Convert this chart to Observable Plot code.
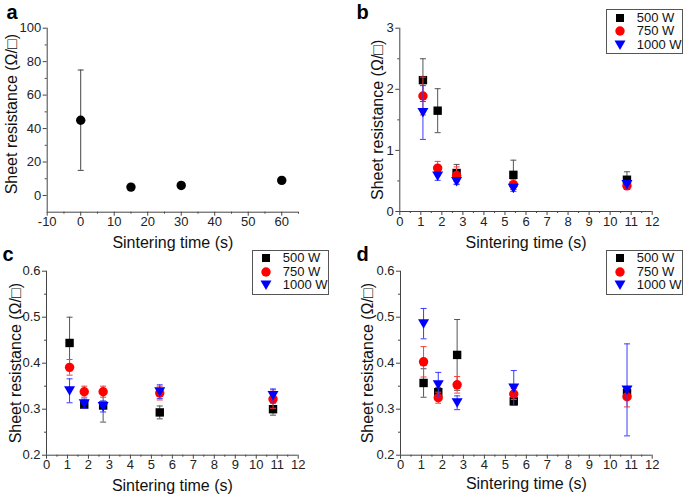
<!DOCTYPE html>
<html><head><meta charset="utf-8">
<script src="https://cdn.jsdelivr.net/npm/d3@7"></script>
<script src="https://cdn.jsdelivr.net/npm/@observablehq/plot@0.6"></script>
<style>
body{margin:0;background:#fff;}
#fig{position:relative;width:685px;height:498px;font-family:"Liberation Sans",Arial,sans-serif;overflow:hidden;background:#fff;}
.panel{position:absolute;}
.panel svg{overflow:visible;}
.legend{position:absolute;border:1px solid #555;background:#fff;font-size:13px;color:#111;box-sizing:border-box;width:77px;height:45px;}
.legend .row{position:absolute;height:14px;line-height:14px;white-space:nowrap;}
.legend svg{position:absolute;}
</style></head><body><div id="fig"></div>
<script>
// ---------- data ----------
const xTitle = "Sintering time (s)";
const yTitle = "Sheet resistance (Ω/□)";
const seriesNames = ["500 W", "750 W", "1000 W"];
const seriesColors = ["#000000", "#ff0000", "#0000ff"];
const errColors = ["#555555", "#ff3b3b", "#3b3bff"];

// panel a
const timesA = [0, 15, 30, 60];
const valuesA = [45, 5, 6, 9];
const errA = [30, 1, 1, 1.5];

// panels b, c, d share these sintering times
const timesBCD = [1.1, 1.8, 2.7, 5.4, 10.8];

// panel b
const b500 = [2.15, 1.65, 0.63, 0.60, 0.52];
const b500Err = [0.35, 0.36, 0.14, 0.24, 0.13];
const b750 = [1.89, 0.71, 0.59, 0.44, 0.42];
const b750Err = [0.31, 0.11, 0.14, 0.08, 0.06];
const b1000 = [1.62, 0.58, 0.49, 0.38, 0.44];
const b1000Err = [0.44, 0.07, 0.05, 0.05, 0.05];

// panel c
const c500 = [0.444, 0.310, 0.308, 0.293, 0.300];
const c500Err = [0.056, 0.008, 0.036, 0.014, 0.013];
const c750 = [0.391, 0.338, 0.338, 0.335, 0.322];
const c750Err = [0.017, 0.012, 0.012, 0.015, 0.020];
const c1000 = [0.340, 0.312, 0.306, 0.338, 0.330];
const c1000Err = [0.026, 0.010, 0.012, 0.015, 0.014];

// panel d
const d500 = [0.357, 0.337, 0.418, 0.317, 0.335];
const d500Err = [0.031, 0.010, 0.077, 0.008, 0.010];
const d750 = [0.403, 0.325, 0.353, 0.333, 0.327];
const d750Err = [0.033, 0.012, 0.018, 0.012, 0.022];
const d1000 = [0.486, 0.353, 0.314, 0.346, 0.342];
const d1000Err = [0.033, 0.027, 0.015, 0.038, 0.100];

// tick values
const xTicksA = [-10, 0, 10, 20, 30, 40, 50, 60];
const xMinorA = [-5, 5, 15, 25, 35, 45, 55, 65];
const yTicksA = [0, 20, 40, 60, 80, 100];
const yMinorA = [-10, 10, 30, 50, 70, 90];
const xTicksT = [0, 1, 2, 3, 4, 5, 6, 7, 8, 9, 10, 11, 12];
const xMinorT = [0.5, 1.5, 2.5, 3.5, 4.5, 5.5, 6.5, 7.5, 8.5, 9.5, 10.5, 11.5];
const yTicksB = [0, 1, 2, 3];
const yMinorB = [0.5, 1.5, 2.5];
const yTicksCD = [0.2, 0.3, 0.4, 0.5, 0.6];
const yMinorCD = [0.25, 0.35, 0.45, 0.55];

// ---------- symbols ----------
const symSquare = {draw(ctx) { const s = 4.2; ctx.moveTo(-s, -s); ctx.lineTo(s, -s); ctx.lineTo(s, s); ctx.lineTo(-s, s); ctx.closePath(); }};
const symCircle = {draw(ctx) { const r = 4.7; ctx.moveTo(r, 0); ctx.arc(0, 0, r, 0, 2 * Math.PI); ctx.closePath(); }};
const symTriDown = {draw(ctx) { ctx.moveTo(-5.5, -4.5); ctx.lineTo(5.5, -4.5); ctx.lineTo(0, 5); ctx.closePath(); }};
const symCap = {draw(ctx) { ctx.moveTo(-3, 0); ctx.lineTo(3, 0); }};
const seriesSymbols = [symSquare, symCircle, symTriDown];

const W = 342, H = 250;
const FONT = "Liberation Sans, Arial, sans-serif";

function rowsOf(times, vals, errs) {
  return times.map((t, i) => ({t, v: vals[i], lo: vals[i] - errs[i], hi: vals[i] + errs[i]}));
}

function makePanel(cfg) {
  const marks = [];
  marks.push(Plot.axisX(cfg.xMinor, {tickSize: 2, fill: "none", stroke: "#444", label: null}));
  marks.push(Plot.axisY(cfg.yMinor.filter(v => v > cfg.yDomain[0]), {tickSize: 2, fill: "none", stroke: "#444", label: null}));
  marks.push(Plot.axisX(cfg.xTicks, {tickSize: 4, tickPadding: 1, stroke: "#444", fill: "#222", fontSize: 13, label: null, tickFormat: d => String(d)}));
  marks.push(Plot.axisY(cfg.yTicks, {tickSize: 4, tickPadding: 2, stroke: "#444", fill: "#222", fontSize: 13, label: null, tickFormat: cfg.yFmt}));
  marks.push(Plot.ruleX([cfg.xDomain[0]], {stroke: "#444"}));
  marks.push(Plot.ruleY([cfg.yDomain[0]], {stroke: "#444"}));
  cfg.series.forEach(s => {
    marks.push(Plot.ruleX(s.rows, {x: "t", y1: "lo", y2: "hi", stroke: s.err, strokeWidth: 1}));
    marks.push(Plot.dot(s.rows, {x: "t", y: "lo", symbol: symCap, stroke: s.err, fill: "none", strokeWidth: 1}));
    marks.push(Plot.dot(s.rows, {x: "t", y: "hi", symbol: symCap, stroke: s.err, fill: "none", strokeWidth: 1}));
    marks.push(Plot.dot(s.rows, {x: "t", y: "v", symbol: s.symbol, fill: s.color, stroke: "none"}));
  });
  marks.push(Plot.text([xTitle], {text: d => d, frameAnchor: "bottom", dy: cfg.xtDy, textAnchor: "middle", lineAnchor: "middle", fontSize: 16, fill: "#111"}));
  marks.push(Plot.text([yTitle], {text: d => d, frameAnchor: "left", dx: cfg.ytDx, dy: cfg.ytDy, rotate: -90, textAnchor: "middle", lineAnchor: "middle", fontSize: 16, fill: "#111"}));
  marks.push(Plot.text([cfg.letter], {text: d => d, frameAnchor: "top-left", dx: cfg.lDx, dy: cfg.lDy, textAnchor: "start", lineAnchor: "middle", fontSize: 20, fontWeight: "bold", fill: "#000"}));
  const svg = Plot.plot({
    width: W, height: H,
    marginLeft: cfg.m[0], marginTop: cfg.m[1], marginRight: cfg.m[2], marginBottom: cfg.m[3],
    style: {fontFamily: FONT, background: "transparent", overflow: "visible"},
    x: {domain: cfg.xDomain},
    y: {domain: cfg.yDomain},
    marks
  });
  const div = document.createElement("div");
  div.className = "panel";
  div.style.left = cfg.left + "px";
  div.style.top = cfg.top + "px";
  div.appendChild(svg);
  document.getElementById("fig").appendChild(div);
}

function makeSeries(vals, errs) {
  return vals.map((v, i) => ({rows: rowsOf(timesBCD, v, errs[i]), color: seriesColors[i], err: errColors[i], symbol: seriesSymbols[i]}));
}

function makeLegend(left, top) {
  const lg = document.createElement("div");
  lg.className = "legend";
  lg.style.left = left + "px";
  lg.style.top = top + "px";
  const shapes = [
    `<rect x="1" y="2" width="8" height="8" fill="${seriesColors[0]}"/>`,
    `<circle cx="5" cy="6" r="4.7" fill="${seriesColors[1]}"/>`,
    `<path d="M-0.5,1.5L10.5,1.5L5,11Z" fill="${seriesColors[2]}"/>`
  ];
  seriesNames.forEach((name, i) => {
    const sv = document.createElementNS("http://www.w3.org/2000/svg", "svg");
    sv.setAttribute("width", 11); sv.setAttribute("height", 12);
    sv.style.left = "8px"; sv.style.top = (1.5 + i * 13.5) + "px";
    sv.style.overflow = "visible";
    sv.innerHTML = shapes[i];
    lg.appendChild(sv);
    const r = document.createElement("div");
    r.className = "row";
    r.style.left = "30px"; r.style.top = (0.5 + i * 13.5) + "px";
    r.textContent = name;
    lg.appendChild(r);
  });
  document.getElementById("fig").appendChild(lg);
}

// panel a
makePanel({
  left: 0, top: 0, m: [46.7, 27.7, 44, 38.3],
  xDomain: [-10, 65], yDomain: [-10, 100],
  xTicks: xTicksA, xMinor: xMinorA, yTicks: yTicksA, yMinor: yMinorA,
  yFmt: d => String(d),
  series: [{rows: rowsOf(timesA, valuesA, errA), color: "#000", err: "#444", symbol: symCircle}],
  letter: "a", lDx: -40.7, lDy: -15.6, xtDy: 31, ytDx: -35.5, ytDy: -6
});
// panel b
makePanel({
  left: 340, top: 0, m: [59.3, 27.7, 30.3, 39],
  xDomain: [0, 12], yDomain: [0, 3],
  xTicks: xTicksT, xMinor: xMinorT, yTicks: yTicksB, yMinor: yMinorB,
  yFmt: d => String(d),
  series: makeSeries([b500, b750, b1000], [b500Err, b750Err, b1000Err]),
  letter: "b", lDx: -43.3, lDy: -15.6, xtDy: 31, ytDx: -21.5, ytDy: 0
});
// panel c
makePanel({
  left: 0, top: 248, m: [46, 22.7, 44.3, 43.3],
  xDomain: [0, 12], yDomain: [0.2, 0.6],
  xTicks: xTicksT, xMinor: xMinorT, yTicks: yTicksCD, yMinor: yMinorCD,
  yFmt: d3.format(".1f"),
  series: makeSeries([c500, c750, c1000], [c500Err, c750Err, c1000Err]),
  letter: "c", lDx: -44, lDy: -17.1, xtDy: 30.5, ytDx: -30.5, ytDy: 0
});
// panel d
makePanel({
  left: 340, top: 248, m: [60, 22.7, 30.3, 43.3],
  xDomain: [0, 12], yDomain: [0.2, 0.6],
  xTicks: xTicksT, xMinor: xMinorT, yTicks: yTicksCD, yMinor: yMinorCD,
  yFmt: d3.format(".1f"),
  series: makeSeries([d500, d750, d1000], [d500Err, d750Err, d1000Err]),
  letter: "d", lDx: -44, lDy: -17.1, xtDy: 29, ytDx: -32.5, ytDy: 0
});

makeLegend(605.7, 9);
makeLegend(251.7, 249.7);
makeLegend(605.7, 249.7);
</script></body></html>
